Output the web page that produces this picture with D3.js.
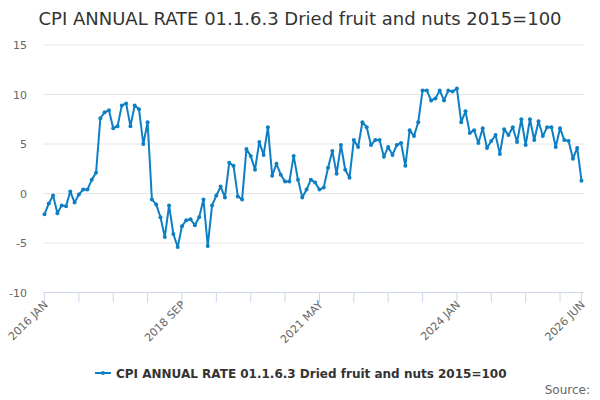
<!DOCTYPE html>
<html>
<head>
<meta charset="utf-8">
<script src="https://cdn.jsdelivr.net/npm/d3@7"></script>
<style>
  body { margin: 0; background: #fff; }
  svg { font-family: "DejaVu Sans", sans-serif; }
</style>
</head>
<body>
<div id="chart"></div>
<script>
// monthly series, 2016 JAN .. 2026 JUN
const months = ["JAN","FEB","MAR","APR","MAY","JUN","JUL","AUG","SEP","OCT","NOV","DEC"];
const years = d3.range(2016, 2027);
const categories = years.flatMap(y => months.map(m => y + " " + m)).slice(0, 126);

const values = [
  -2.1, -1.0, -0.2, -2.0, -1.2, -1.3, 0.2, -0.9, -0.1, 0.4, 0.4, 1.4,
  2.1, 7.6, 8.2, 8.4, 6.6, 6.8, 8.9, 9.1, 6.8, 8.9, 8.5, 5.0,
  7.2, -0.6, -1.1, -2.4, -4.4, -1.2, -4.1, -5.4, -3.3, -2.7, -2.6, -3.2,
  -2.4, -0.6, -5.3, -1.2, -0.2, 0.7, -0.4, 3.1, 2.8, -0.3, -0.6, 4.5,
  3.8, 2.4, 5.2, 3.9, 6.7, 1.8, 3.0, 1.9, 1.2, 1.2, 3.8, 1.4,
  -0.4, 0.4, 1.4, 1.1, 0.4, 0.6, 2.6, 4.3, 2.0, 4.9, 2.4, 1.6,
  5.4, 4.7, 7.2, 6.7, 4.9, 5.4, 5.4, 3.7, 4.7, 3.9, 4.9, 5.1,
  2.8, 6.4, 5.8, 7.2, 10.4, 10.4, 9.4, 9.6, 10.4, 9.4, 10.4, 10.3,
  10.6, 7.2, 8.3, 6.1, 6.4, 5.1, 6.6, 4.6, 5.3, 5.9, 4.0, 6.5,
  5.9, 6.7, 5.2, 7.5, 4.9, 7.5, 5.4, 7.3, 5.8, 6.7, 6.7, 4.7,
  6.6, 5.4, 5.3, 3.5, 4.6, 1.3
];

const yTicks = [-10, -5, 0, 5, 10, 15];
const labelIdx = [0, 32, 64, 96, 125];
const tickIdx = d3.range(0, 126, 8).concat([125]);

const seriesName = "CPI ANNUAL RATE 01.1.6.3 Dried fruit and nuts 2015=100";
const color = "#0d7fc4";

const W = 600, H = 400;
const plot = {left: 43, right: 584, top: 45, bottom: 292.5};

const svg = d3.select("#chart").append("svg")
  .attr("width", W).attr("height", H);

const x = d3.scaleLinear()
  .domain([0, categories.length - 1])
  .range([44.5, 581.5]);

const y = d3.scaleLinear()
  .domain([-10, 15])
  .range([plot.bottom, plot.top]);

// title
svg.append("text")
  .attr("x", W / 2).attr("y", 25)
  .attr("text-anchor", "middle")
  .style("font-size", "18px")
  .attr("fill", "#333333")
  .text(seriesName);

// y gridlines
svg.append("g")
  .selectAll("line")
  .data(yTicks.filter(d => d !== -10))
  .join("line")
    .attr("x1", plot.left).attr("x2", plot.right)
    .attr("y1", d => y(d)).attr("y2", d => y(d))
    .attr("stroke", "#e6e6e6");

// y labels
svg.append("g")
  .selectAll("text")
  .data(yTicks)
  .join("text")
    .attr("x", 27).attr("y", d => y(d) + 4)
    .attr("text-anchor", "end")
    .style("font-size", "11px")
    .attr("fill", "#666666")
    .text(d => d);

// x axis line + ticks
svg.append("line")
  .attr("x1", plot.left).attr("x2", plot.right)
  .attr("y1", plot.bottom).attr("y2", plot.bottom)
  .attr("stroke", "#ccd6eb");

svg.append("g")
  .selectAll("line")
  .data(tickIdx)
  .join("line")
    .attr("x1", d => x(d)).attr("x2", d => x(d))
    .attr("y1", plot.bottom).attr("y2", plot.bottom + 10)
    .attr("stroke", "#ccd6eb");

svg.append("g")
  .selectAll("text")
  .data(labelIdx)
  .join("text")
    .attr("transform", d => `translate(${x(d) + 4},${plot.bottom + 13})rotate(-45)`)
    .attr("text-anchor", "end")
    .style("font-size", "11px")
    .attr("fill", "#666666")
    .text(d => categories[d]);

// line
const line = d3.line()
  .x((d, i) => x(i))
  .y(d => y(d));

svg.append("path")
  .datum(values)
  .attr("d", line)
  .attr("fill", "none")
  .attr("stroke", color)
  .attr("stroke-width", 2)
  .attr("stroke-linejoin", "round");

svg.append("g")
  .selectAll("circle")
  .data(values)
  .join("circle")
    .attr("cx", (d, i) => x(i))
    .attr("cy", d => y(d))
    .attr("r", 2)
    .attr("fill", color);

// legend
const lg = svg.append("g").attr("transform", "translate(95,373)");
lg.append("line").attr("x1", 0).attr("x2", 16).attr("y1", 0).attr("y2", 0)
  .attr("stroke", color).attr("stroke-width", 2);
lg.append("circle").attr("cx", 8).attr("cy", 0).attr("r", 2).attr("fill", color);
lg.append("text")
  .attr("x", 21).attr("y", 4.5)
  .style("font-size", "12px").style("font-weight", "bold")
  .attr("fill", "#333333")
  .text(seriesName);

// credits
svg.append("text")
  .attr("x", 590).attr("y", 394)
  .attr("text-anchor", "end")
  .style("font-size", "12px")
  .attr("fill", "#666666")
  .text("Source:");
</script>
</body>
</html>
